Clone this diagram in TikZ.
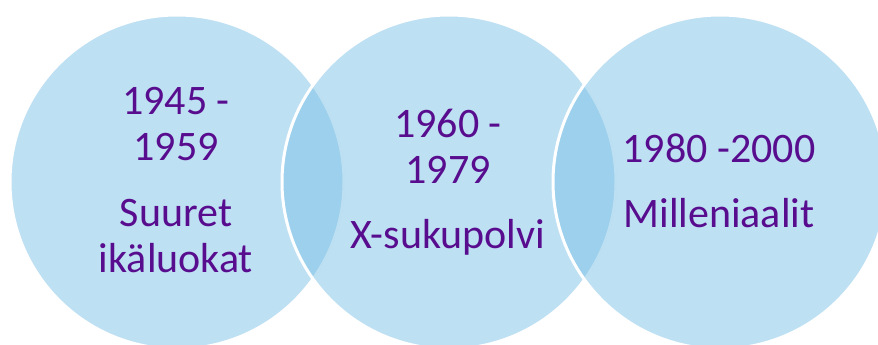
\documentclass[tikz,border=0pt]{standalone}
\usepackage{fontspec}
\setmainfont{Carlito}
\definecolor{ringfill}{RGB}{125,193,231}
\definecolor{agetext}{RGB}{88,12,142}
\tikzset{
  ring/.style={fill=ringfill, fill opacity=0.5, draw=white, draw opacity=1, line width=3pt},
  era/.style={text=agetext, align=center, anchor=base, inner sep=0pt,
    font=\fontsize{42}{46}\selectfont}
}
\begin{document}
\begin{tikzpicture}[x=1pt,y=-1pt]
  \useasboundingbox (0,0) rectangle (878,345);
  \clip (0,0) rectangle (878,345);
  % three overlapping generation circles, each drawn over the previous one
  \path[ring] (177,182) circle[radius=167];
  \path[ring] (449,182) circle[radius=167];
  \path[ring] (720,182) circle[radius=167];
  % labels, placed by the baseline of their last line
  \node[era] (boomers) at (176,272) {1945 -\\1959\\[20pt]Suuret\\ikäluokat};
  \node[era] (genx) at (448,248) {1960 -\\1979\\[19pt]X-sukupolvi};
  \node[era] (millennials) at (719,227) {1980 -2000\\[19pt]Milleniaalit};
\end{tikzpicture}
\end{document}
